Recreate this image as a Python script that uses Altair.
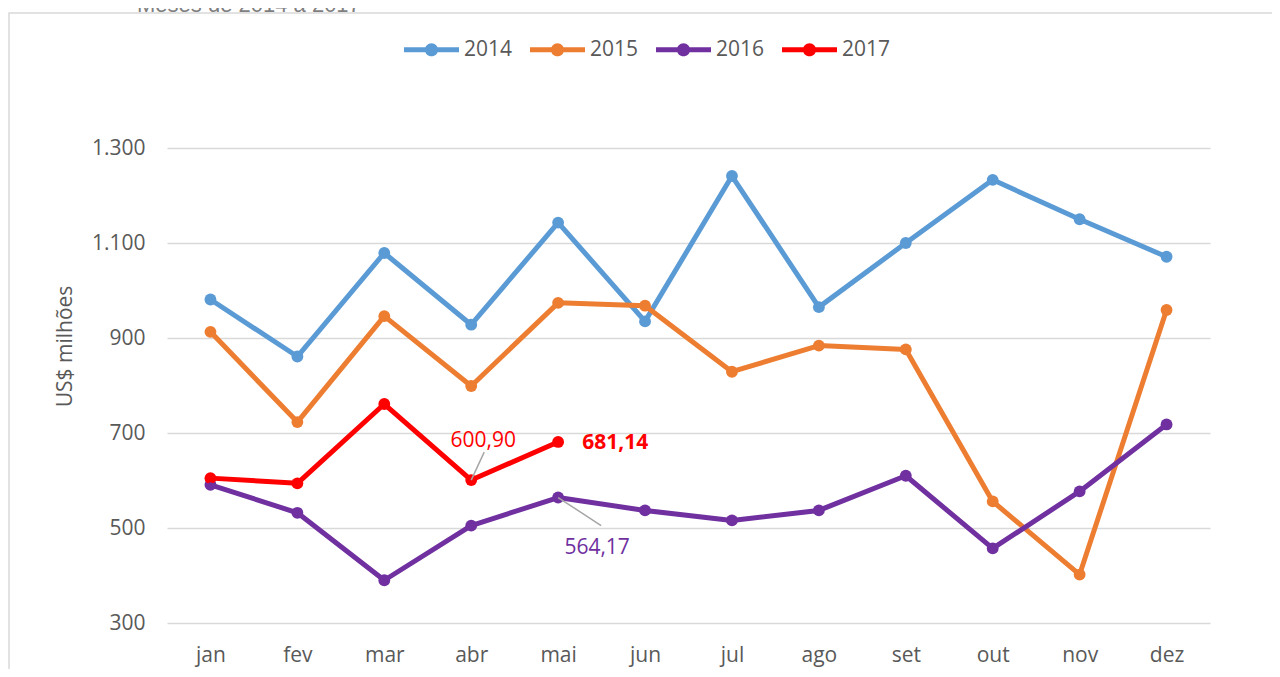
import altair as alt
import pandas as pd

months = ["jan", "fev", "mar", "abr", "mai", "jun", "jul", "ago", "set", "out", "nov", "dez"]
years = ["2014", "2015", "2016", "2017"]
colors = ["#5B9BD5", "#ED7D31", "#7030A0", "#FF0000"]

v2014 = [981, 861, 1079, 928, 1143, 935, 1241, 965, 1100, 1233, 1150, 1071]
v2015 = [913, 723, 946, 799, 974, 968, 829, 884, 876, 556, 402, 959]
v2016 = [591, 532, 390, 505, 564.17, 537, 516, 537, 610, 457, 577, 718]
v2017 = [605, 594, 761, 600.90, 681.14]

series = {"2014": v2014, "2015": v2015, "2016": v2016, "2017": v2017}
rows = []
for y in years:
    for m, v in zip(months, series[y]):
        rows.append({"ano": y, "mes": m, "valor": v})
df = pd.DataFrame(rows)

def pick(y, m):
    d = df[(df.ano == y) & (df.mes == m)].copy()
    d["rotulo"] = d["valor"].map(lambda v: f"{v:.2f}".replace(".", ","))
    return d

a1 = pick("2017", "abr")
a2 = pick("2017", "mai")
a3 = pick("2016", "mai")

W, H = 1043, 475
GRAY = "#595959"
FONT = "Open Sans"

xenc = alt.X("mes:N", sort=months, scale=alt.Scale(type="point", padding=0.5),
             axis=alt.Axis(title=None, labelAngle=0, ticks=False, domain=False, grid=False,
                           labelFontSize=21, labelColor=GRAY, labelFont=FONT, labelPadding=21))
yenc = alt.Y("valor:Q", scale=alt.Scale(domain=[300, 1300], nice=False, zero=False),
             axis=alt.Axis(values=[300, 500, 700, 900, 1100, 1300],
                           labelExpr="replace(format(datum.value, ','), ',', '.')",
                           grid=True, gridColor="#d9d9d9", gridWidth=1.5,
                           domain=False, ticks=False, labelPadding=22,
                           labelFontSize=21, labelColor=GRAY, labelFont=FONT,
                           title="US$ milhões", titleFontSize=21, titleFontWeight="normal",
                           titleColor=GRAY, titleFont=FONT, titleX=-102, titleY=198,
                           titleAngle=270, titleBaseline="middle"))

sym = ("M-1,-0.09 L1,-0.09 L1,0.09 L-1,0.09 Z "
       "M-0.24,0 A0.24,0.24 0 1,1 0.24,0 A0.24,0.24 0 1,1 -0.24,0 Z")

cenc = alt.Color("ano:N", scale=alt.Scale(domain=years, range=colors),
                 legend=alt.Legend(title=None, orient="none", legendX=237, legendY=-126,
                                   direction="horizontal", symbolType=sym, symbolSize=3025,
                                   symbolStrokeWidth=0, labelFontSize=21, labelColor=GRAY,
                                   labelFont=FONT, labelOffset=5, columnPadding=17))

one = pd.DataFrame({"a": [0]})

border = alt.Chart(one).mark_rect(fill="transparent", stroke="#d9d9d9", strokeWidth=1.5).encode(
    x=alt.value(-158), x2=alt.value(W + 200), y=alt.value(-135), y2=alt.value(H + 200))

title = alt.Chart(one).mark_text(text="Meses de 2014 a 2017", align="left", baseline="alphabetic",
                                 font="Liberation Sans", fontSize=22, color="#7f7f7f").encode(
    x=alt.value(-30), y=alt.value(-136))

points = alt.Chart(df).mark_point(filled=True, size=140, opacity=1).encode(x=xenc, y=yenc, color=cenc)
lines = alt.Chart(df).mark_line(strokeWidth=5, strokeCap="round", strokeJoin="round").encode(
    x=xenc, y=yenc, color=cenc)

lead1 = alt.Chart(a1).mark_rule(color="#a6a6a6", strokeWidth=1.5, x2Offset=13, y2Offset=-28).encode(
    x=alt.X("mes:N", sort=months), x2="mes:N", y="valor:Q", y2="valor:Q")
lead3 = alt.Chart(a3).mark_rule(color="#a6a6a6", strokeWidth=1.5, x2Offset=43, y2Offset=28).encode(
    x=alt.X("mes:N", sort=months), x2="mes:N", y="valor:Q", y2="valor:Q")

t1 = alt.Chart(a1).mark_text(color="#FF0000", fontSize=21, font=FONT, dx=12, dy=-39,
                             align="center", baseline="middle").encode(
    x=alt.X("mes:N", sort=months), y="valor:Q", text="rotulo:N")
t2 = alt.Chart(a2).mark_text(color="#FF0000", fontSize=21, font=FONT, fontWeight="bold", dx=24, dy=1,
                             align="left", baseline="middle").encode(
    x=alt.X("mes:N", sort=months), y="valor:Q", text="rotulo:N")
t3 = alt.Chart(a3).mark_text(color="#7030A0", fontSize=21, font=FONT, dx=39, dy=50,
                             align="center", baseline="middle").encode(
    x=alt.X("mes:N", sort=months), y="valor:Q", text="rotulo:N")

chart = alt.layer(border, title, points, lines, lead1, lead3, t1, t2, t3).properties(
    width=W, height=H,
    autosize=alt.AutoSizeParams(type="none"),
    padding={"left": 159, "top": 140, "right": 62, "bottom": 46},
).configure_view(stroke=None)

chart.save("out.html", embed_options={"renderer": "svg", "actions": False})
